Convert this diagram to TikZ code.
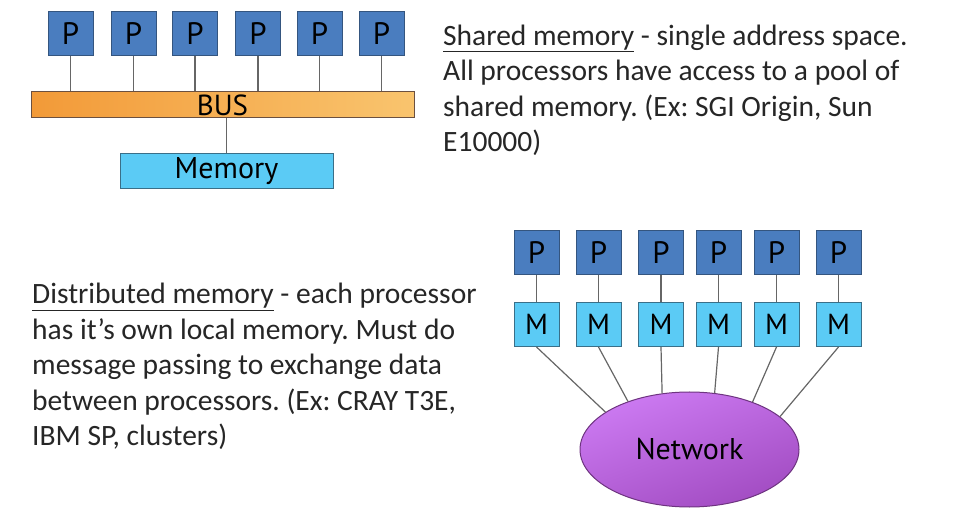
\documentclass[tikz,border=0pt]{standalone}
\usepackage{fontspec}
\setmainfont{Carlito}
\newfontfamily\gill{PT Sans}
\usetikzlibrary{shapes.geometric}
\definecolor{pfill}{HTML}{4A7DBF}
\definecolor{pborder}{HTML}{34557F}
\definecolor{mfill}{HTML}{5BCBF5}
\definecolor{mborder}{HTML}{3A6F88}
\definecolor{busL}{HTML}{F29A38}
\definecolor{busR}{HTML}{F9C46E}
\definecolor{busborder}{HTML}{6B5040}
\definecolor{netT}{HTML}{CC7AF2}
\definecolor{netB}{HTML}{A24CC2}
\definecolor{netborder}{HTML}{6E3480}
\definecolor{linkgray}{HTML}{666666}
\definecolor{txt}{HTML}{262626}
\frenchspacing
\begin{document}
\begin{tikzpicture}[x=1pt,y=-1pt,
  box/.style={draw, line width=1pt, minimum width=45pt, minimum height=44pt, inner sep=0pt, text=black},
  pbox/.style={box, draw=pborder, fill=pfill, font=\gill\fontsize{31}{31}\selectfont},
  mbox/.style={box, draw=mborder, fill=mfill, font=\gill\fontsize{29}{29}\selectfont},
  link/.style={draw=linkgray, line width=1.2pt},
  desc/.style={anchor=north west, inner sep=0pt, align=left, text=txt, font=\fontsize{29.5}{35.5}\selectfont}]
\useasboundingbox (0,0) rectangle (967,526);

% ---------- Shared memory ----------
\foreach \i/\x in {1/70.5,2/133.5,3/195,4/258,5/319.5,6/381.5}
  \node[pbox] (sp\i) at (\x,34) {P};
\node[draw=busborder, line width=1pt, left color=busL, right color=busR,
      minimum width=383pt, minimum height=26pt, inner sep=0pt,
      font=\gill\fontsize{29}{29}\selectfont] (bus) at (222.5,105) {BUS};
\foreach \i in {1,...,6}
  \draw[link] (sp\i.south) -- (sp\i.south |- bus.north);
\node[draw=mborder, fill=mfill, line width=1pt, minimum width=213pt, minimum height=35pt,
      inner sep=0pt, font=\gill\fontsize{30}{30}\selectfont] (mem) at (226.5,171.5) {Memory};
\draw[link] (mem.north |- bus.south) -- (mem.north);

\node[desc] (stext) at (443,24.5) {\underline{Shared memory} - single address space.\\
All processors have access to a pool of\\
shared memory. (Ex: SGI Origin, Sun\\
E10000)};

% ---------- Distributed memory ----------
\foreach \i/\x in {1/536.5,2/598.5,3/661,4/718.5,5/776.5,6/838.5}{
  \node[pbox] (dp\i) at (\x,253) {P};
  \node[mbox] (dm\i) at (\x,324.5) {M};
  \draw[link] (dp\i) -- (dm\i);
}
\node[ellipse, draw=netborder, line width=1pt, top color=netT, bottom color=netB, shading angle=20,
      minimum width=219pt, minimum height=115pt, inner sep=0pt,
      font=\gill\fontsize{30}{30}\selectfont] (net) at (689.5,449.5) {Network};
\foreach \i/\a in {1/156,2/142,3/116,4/66,5/37,6/20}
  \draw[link] (dm\i.south) -- (net.\a);

\node[desc] (dtext) at (32,283) {\underline{Distributed memory} - each processor\\
has it’s own local memory. Must do\\
message passing to exchange data\\
between processors. (Ex: CRAY T3E,\\
IBM SP, clusters)};
\end{tikzpicture}
\end{document}
